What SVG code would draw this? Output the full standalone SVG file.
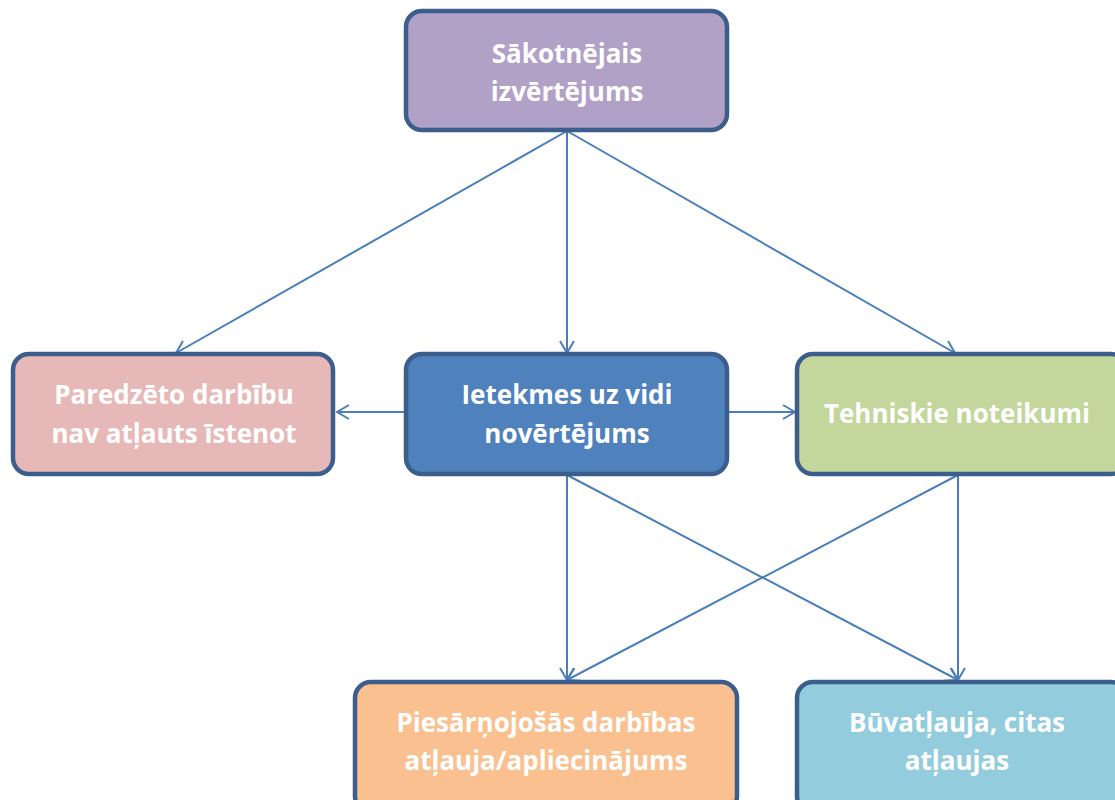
<svg xmlns="http://www.w3.org/2000/svg" width="1115" height="800" viewBox="0 0 1115 800">
<defs>
<style>
.box{stroke:#3b5e8c;stroke-width:4.5}
.t{font-family:"Open Sans","Noto Sans","Liberation Sans",sans-serif;font-weight:bold;font-size:26px;fill:#ffffff;text-anchor:middle}
.c{stroke:#4a7ebb;stroke-width:2;fill:none;marker-end:url(#ah)}
</style>
<marker id="ah" viewBox="0 0 14 16" refX="13" refY="8" markerWidth="14" markerHeight="16" markerUnits="userSpaceOnUse" orient="auto">
<path d="M1,1 L13,8 L1,15" fill="none" stroke="#4a7ebb" stroke-width="2"/>
</marker>
</defs>
<rect width="1115" height="800" fill="#ffffff"/>
<g id="connectors">
<line class="c" x1="567" y1="131" x2="176" y2="353"/>
<line class="c" x1="567" y1="131" x2="567" y2="353"/>
<line class="c" x1="567" y1="131" x2="955" y2="353"/>
<line class="c" x1="405" y1="412" x2="337" y2="412"/>
<line class="c" x1="728" y1="412" x2="795" y2="412"/>
<line class="c" x1="567" y1="475" x2="567" y2="680"/>
<line class="c" x1="567" y1="475" x2="958" y2="680"/>
<line class="c" x1="958" y1="475" x2="958" y2="680"/>
<line class="c" x1="958" y1="475" x2="567" y2="680"/>
</g>
<g id="n-sakotnejais">
<rect class="box" x="406" y="11" width="321" height="119" rx="16" fill="#b2a1c7"/>
<text class="t" x="567" y="63">Sākotnējais</text>
<text class="t" x="567" y="101">izvērtējums</text>
</g>
<g id="n-paredzeto">
<rect class="box" x="13" y="354" width="320" height="120" rx="16" fill="#e6b9b8"/>
<text class="t" x="174" y="404">Paredzēto darbību</text>
<text class="t" x="174" y="443">nav atļauts īstenot</text>
</g>
<g id="n-ietekmes">
<rect class="box" x="406" y="354" width="321" height="120" rx="16" fill="#4f81bd"/>
<text class="t" x="567" y="404">Ietekmes uz vidi</text>
<text class="t" x="567" y="443">novērtējums</text>
</g>
<g id="n-tehniskie">
<rect class="box" x="797" y="354" width="330" height="120" rx="16" fill="#c3d69b"/>
<text class="t" x="957" y="423">Tehniskie noteikumi</text>
</g>
<g id="n-piesarnojosas">
<rect class="box" x="355" y="682" width="382" height="130" rx="16" fill="#fac090"/>
<text class="t" x="546" y="732">Piesārņojošās darbības</text>
<text class="t" x="546" y="770">atļauja/apliecinājums</text>
</g>
<g id="n-buvatlauja">
<rect class="box" x="797" y="682" width="330" height="130" rx="16" fill="#93cddd"/>
<text class="t" x="957" y="732">Būvatļauja, citas</text>
<text class="t" x="957" y="770">atļaujas</text>
</g>
</svg>
